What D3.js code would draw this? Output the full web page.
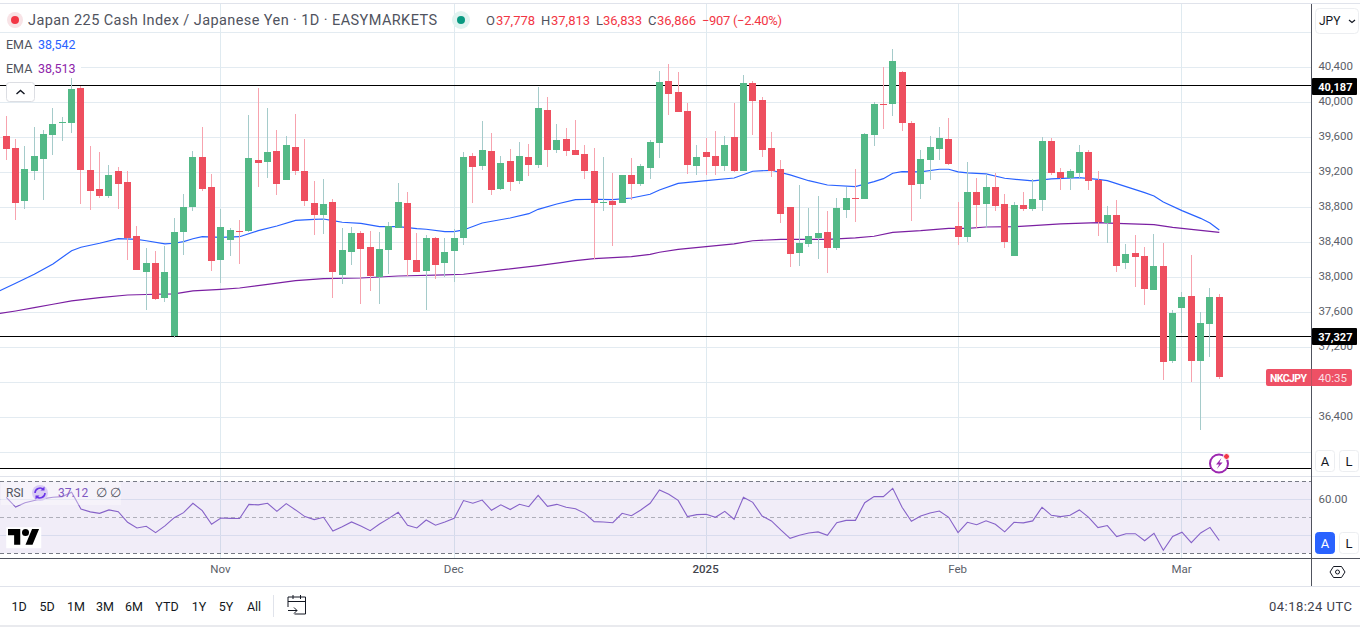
<!DOCTYPE html>
<html>
<head>
<meta charset="utf-8">
<title>NKCJPY</title>
<script src="https://d3js.org/d3.v7.min.js"></script>
<style>
  html, body { margin: 0; padding: 0; background: #fff; overflow: hidden; }
  svg { display: block; font-family: Roboto, "Noto Sans", sans-serif; }
  .axis path.domain { display: none; }
  .axis line { display: none; }
</style>
</head>
<body>
<div id="container"></div>
<script>
// daily candles
var opens = [39615,39479,38873,39216,39352,39627,39768,39764,40164,39227,
  39009,38929,39216,39089,38473,38061,38164,37764,37329,38518,
  38804,39375,39032,38198,38427,38529,38529,39341,39318,39444,
  39112,39490,39216,38850,38712,38861,38027,38289,38507,38347,
  38004,38312,38563,38850,38198,38072,38450,38164,38301,38450,
  39386,39272,39444,39009,39329,39101,39375,39284,39912,39455,
  39581,39455,39409,39216,38855,38873,38850,39170,39066,39250,
  39535,40244,40118,39901,39272,39432,39386,39272,39604,39216,
  40221,40027,39479,39238,38804,38278,38381,38450,38518,38335,
  38769,38906,38895,39627,39981,39981,40347,39764,39066,39341,
  39467,39581,38586,38461,38975,38838,39032,38838,38244,38827,
  38781,38884,39558,39204,39135,39193,39432,39112,38621,38712,
  38164,38278,38244,37855,38130,37044,37650,37787,37044,37467,
  37778];
var highs = [39844,39581,39501,39718,39684,39935,39832,40289,40186,39501,
  39432,39284,39261,39216,38586,38335,38301,38358,38678,38952,
  39444,39718,39181,38781,38563,38655,39855,40164,39935,39684,
  39615,39866,39581,39101,39124,38895,38563,38575,38529,38529,
  38518,38632,39078,38975,38507,38484,38461,38450,38552,39432,
  39421,39787,39650,39386,39467,39547,39524,40175,40061,39752,
  39707,39798,39513,39479,39375,39193,39170,39364,39295,39570,
  40358,40438,40347,39993,39513,39592,39672,39615,39993,40312,
  40244,40061,39661,39341,38804,39055,38792,38929,38758,38906,
  39032,39238,39650,40004,40404,40609,40358,39787,39455,39615,
  39718,39821,38861,39318,39135,39181,39193,38952,38861,38975,
  39124,39604,39592,39250,39238,39513,39455,39216,38815,38884,
  38381,38484,38347,38495,38392,37627,37832,38255,37604,37878,
  37813];
var lows = [39341,38655,38781,39112,38884,39398,39558,39650,38838,38769,
  38906,38906,38781,38198,38084,37627,37741,37718,37306,38255,
  38758,38987,38072,37935,38244,38153,38518,39032,39135,38941,
  39112,39170,38815,38484,38495,37764,37924,38141,37695,37844,
  37695,38038,38563,38015,38061,37627,37981,38004,37947,38370,
  38850,39227,38941,38998,38987,39066,39158,39250,39261,39421,
  39386,39398,39124,38210,38758,38358,38850,38884,39044,39124,
  39364,39855,39889,39181,39170,39170,39170,39216,39204,39216,
  39627,39375,39147,38621,38118,38130,38347,38210,38050,38312,
  38678,38632,38895,39501,39695,39844,39672,38644,38895,39112,
  39341,39284,38370,38404,38563,38563,38758,38335,38244,38758,
  38758,38758,39170,38998,38998,39135,38998,38473,38392,38061,
  38095,37890,37684,37855,36827,37021,37364,36804,36255,37090,
  36833];
var closes = [39467,38850,39238,39386,39638,39752,39775,40152,39227,38987,
  38929,39170,39066,38450,38084,38164,37752,38061,38518,38804,
  39375,39009,38187,38575,38541,38518,39364,39307,39432,39066,
  39513,39216,38873,38712,38838,38061,38312,38507,38324,38015,
  38324,38586,38861,38198,38061,38450,38141,38289,38450,39375,
  39261,39455,38998,39307,39089,39386,39284,39935,39455,39570,
  39444,39398,39216,38850,38861,38827,39170,39066,39272,39547,
  40232,40095,39889,39284,39375,39375,39272,39513,39216,40221,
  40015,39455,39216,38724,38267,38392,38473,38507,38335,38792,
  38906,38895,39638,39981,39970,40472,39764,39055,39352,39490,
  39592,39295,38461,38975,38827,39032,38815,38404,38827,38781,
  38895,39558,39193,39135,39216,39432,39101,38632,38712,38130,
  38267,38232,37867,38130,37032,37592,37775,37044,37478,37775,
  36866];

// EMA lines, read at the candles where they bend
var emaFastBars = [-1,1,3,5,7,8,10,12,14,15,17,18,19,20,21,23,25,27,29,31,33,34,35,36,38,40,42,44,45,47,48,49,
  51,54,56,57,59,61,63,65,67,69,70,72,75,78,80,82,84,86,88,91,93,94,95,96,98,100,101,102,103,105,107,110,112,
  115,117,118,120,122,123,124,126,128,129,130];
var emaFast = [37832,37932,38035,38153,38304,38343,38389,38441,38434,38418,38381,38389,38407,38441,38464,38457,38464,38533,38586,38651,38662,38666,38647,38629,38617,38579,38579,38556,38549,38522,38522,38541,
  38621,38678,38727,38777,38838,38887,38892,38887,38906,38949,38998,39074,39104,39135,39212,39223,39170,39104,39055,39036,39093,39127,39189,39208,39204,39235,39235,39204,39193,39181,39132,39101,39124,
  39139,39120,39104,39036,38967,38929,38861,38762,38674,38621,38541];
var emaSlowBars = [-1,1,3,5,7,10,13,16,18,20,23,25,28,31,34,38,42,47,49,53,57,61,63,67,69,70,72,75,78,80,83,88,91,93,95,98,101,103,105,108,110,113,117,119,123,125,128,130];
var emaSlow = [37581,37615,37653,37692,37730,37768,37798,37806,37810,37844,37863,37878,37920,37962,37985,37992,38015,38027,38035,38084,38133,38190,38213,38236,38263,38286,38320,38350,38381,38418,38434,38434,38450,38469,38514,38533,38560,38560,38575,38579,38590,38610,38625,38617,38602,38571,38537,38513];

var rsiValues = [61.1,55.7,58.1,59.3,60.4,61.1,61.5,63.9,54.6,53.0,
  52.2,54.1,53.1,47.2,44.1,45.0,41.5,45.2,49.8,52.6,
  57.8,53.7,46.1,49.6,49.4,49.3,57.2,56.9,57.8,53.3,
  57.6,54.1,50.4,48.7,50.0,42.4,44.8,47.4,45.2,42.6,
  46.3,49.4,52.8,45.6,44.1,48.5,45.6,47.4,49.4,59.3,
  57.8,59.6,53.9,56.9,54.3,57.2,55.9,62.2,56.1,57.2,
  55.6,54.8,52.2,47.6,47.4,47.0,52.2,50.9,54.1,57.8,
  65.2,62.8,59.4,50.4,51.5,51.7,50.0,53.3,48.9,61.1,
  58.3,50.7,48.0,43.0,38.3,40.0,41.3,41.9,40.0,47.0,
  48.3,48.3,58.1,61.5,61.5,66.1,55.6,47.8,50.7,52.4,
  53.5,50.0,41.5,47.2,45.9,48.1,46.1,41.9,47.2,46.9,
  48.0,55.6,51.1,50.4,51.1,54.1,50.0,44.3,45.4,39.3,
  40.9,40.9,37.0,41.1,31.7,39.3,41.7,35.9,41.3,44.4,
  37.12];

var priceTicks = [40400,40000,39600,39200,38800,38400,38000,37600,37200,36400];
var priceGrid = [40800,40400,40000,39600,39200,38800,38400,38000,37600,37200,36800,36400,36000];
var levelLines = [40187,37327,35815];
var levelTags = [40187,37327];
var monthBars = [23,48,75,102,126];
var monthLabels = ["Nov","Dec","2025","Feb","Mar"];
var rangeButtons = ["1D","5D","1M","3M","6M","YTD","1Y","5Y","All"];
var rangeCenters = [19,47,76,105,134,167,199,226,254];

var width = 1360, height = 627, plotRight = 1311.5;
var paneTop = 476, paneBottom = 558;

var svg = d3.select("#container").append("svg")
    .attr("width", width)
    .attr("height", height);

var x = d3.scaleLinear().domain([0, 130]).range([6.3, 1219.3]);
var y = d3.scaleLinear().domain([40400, 36400]).range([67.3, 417.3]);
var yRsi = d3.scaleLinear().domain([70, 30]).range([481.3, 553.3]);

function crisp(v) { return Math.floor(v) + 0.5; }

var defs = svg.append("defs");
defs.append("clipPath").attr("id", "mainClip").append("rect")
    .attr("x", 0).attr("y", 4).attr("width", plotRight).attr("height", paneTop - 4);
defs.append("clipPath").attr("id", "rsiClip").append("rect")
    .attr("x", 0).attr("y", paneTop).attr("width", plotRight).attr("height", paneBottom - paneTop);

// grid
svg.append("g").selectAll("line").data(priceGrid).enter().append("line")
    .attr("x1", 0).attr("x2", plotRight)
    .attr("y1", function(d) { return crisp(y(d)); })
    .attr("y2", function(d) { return crisp(y(d)); })
    .attr("stroke", "#e3ebf1");
svg.append("g").selectAll("line").data(monthBars).enter().append("line")
    .attr("x1", function(d) { return crisp(x(d)); })
    .attr("x2", function(d) { return crisp(x(d)); })
    .attr("y1", 4).attr("y2", paneBottom)
    .attr("stroke", "#dfeaf0");

// ema + level lines sit under the candles
var main = svg.append("g").attr("clip-path", "url(#mainClip)");
main.selectAll(".level").data(levelLines).enter().append("line")
    .attr("class", "level")
    .attr("x1", 0).attr("x2", plotRight)
    .attr("y1", function(d) { return crisp(y(d)); })
    .attr("y2", function(d) { return crisp(y(d)); })
    .attr("stroke", "#000")
    .attr("stroke-width", 1);

var emaLine = d3.line()
    .x(function(d) { return x(d[0]); })
    .y(function(d) { return y(d[1]); });
main.append("path")
    .attr("d", emaLine(d3.zip(emaFastBars, emaFast)))
    .attr("fill", "none").attr("stroke", "#2962ff").attr("stroke-width", 1.2);
main.append("path")
    .attr("d", emaLine(d3.zip(emaSlowBars, emaSlow)))
    .attr("fill", "none").attr("stroke", "#7b1fa2").attr("stroke-width", 1.2);

// candles
var candles = main.selectAll(".candle").data(d3.range(opens.length)).enter().append("g")
    .attr("class", "candle")
    .attr("shape-rendering", "crispEdges");
candles.append("rect")
    .attr("x", function(i) { return Math.round(x(i) - 3.5) + 3; })
    .attr("width", 1)
    .attr("y", function(i) { return Math.round(y(highs[i])); })
    .attr("height", function(i) { return Math.round(y(lows[i])) - Math.round(y(highs[i])); })
    .attr("fill", function(i) { return closes[i] >= opens[i] ? "#a5cbca" : "#f7a3ae"; });
candles.append("rect")
    .attr("x", function(i) { return Math.round(x(i) - 3.5); })
    .attr("width", 7)
    .attr("y", function(i) { return Math.round(y(Math.max(opens[i], closes[i]))); })
    .attr("height", function(i) {
      return Math.max(1, Math.round(y(Math.min(opens[i], closes[i]))) - Math.round(y(Math.max(opens[i], closes[i]))));
    })
    .attr("fill", function(i) { return closes[i] >= opens[i] ? "#53b987" : "#ee4f5f"; });

// rsi pane
svg.append("rect")
    .attr("x", 0).attr("width", plotRight)
    .attr("y", yRsi(70)).attr("height", yRsi(30) - yRsi(70))
    .attr("fill", "#7e57c2").attr("fill-opacity", 0.11);
svg.append("g").selectAll("line").data([60, 40]).enter().append("line")
    .attr("x1", 0).attr("x2", plotRight)
    .attr("y1", function(d) { return crisp(yRsi(d)); })
    .attr("y2", function(d) { return crisp(yRsi(d)); })
    .attr("stroke", "#d9dcee");
svg.append("g").selectAll("line").data([70, 50, 30]).enter().append("line")
    .attr("x1", 0).attr("x2", plotRight)
    .attr("y1", function(d) { return crisp(yRsi(d)); })
    .attr("y2", function(d) { return crisp(yRsi(d)); })
    .attr("stroke", "#787b86")
    .attr("stroke-opacity", function(d) { return d == 50 ? 0.55 : 1; })
    .attr("stroke-dasharray", "4,3");
svg.append("path")
    .attr("clip-path", "url(#rsiClip)")
    .attr("d", d3.line()
      .x(function(d, i) { return x(i); })
      .y(function(d) { return yRsi(d); })(rsiValues))
    .attr("fill", "none").attr("stroke", "#8662c8").attr("stroke-width", 1.1);

// frame lines
function rule(x1, y1, x2, y2, color) {
  svg.append("line").attr("x1", x1).attr("y1", y1).attr("x2", x2).attr("y2", y2).attr("stroke", color);
}
rule(0, 3.5, width, 3.5, "#e0e3eb");
rule(0, 476.5, width, 476.5, "#e0e3eb");
rule(0, 558.5, width, 558.5, "#50535e");
rule(0, 586.5, width, 586.5, "#e0e3eb");
rule(1311.5, 4, 1311.5, 586, "#50535e");
svg.append("rect").attr("x", 0).attr("y", 625).attr("width", width).attr("height", 2).attr("fill", "#e9eaee");

// axes
var priceAxis = svg.append("g")
    .attr("class", "axis")
    .attr("transform", "translate(1311.5,0)")
    .call(d3.axisRight(y).tickValues(priceTicks).tickFormat(d3.format(",")).tickSize(0));
priceAxis.selectAll("text")
    .attr("x", 41.5).attr("text-anchor", "end")
    .attr("font-size", 11.5).attr("fill", "#5c5f69").attr("font-family", "Roboto").attr("dy", "0.22em");

var rsiAxis = svg.append("g")
    .attr("class", "axis")
    .attr("transform", "translate(1311.5,0)")
    .call(d3.axisRight(yRsi).tickValues([60]).tickFormat(d3.format(".2f")).tickSize(0));
rsiAxis.selectAll("text")
    .attr("x", 36).attr("text-anchor", "end")
    .attr("font-size", 11.5).attr("fill", "#5c5f69").attr("font-family", "Roboto");

var timeAxis = svg.append("g")
    .attr("class", "axis")
    .attr("transform", "translate(-1,564)")
    .call(d3.axisBottom(x).tickValues(monthBars)
      .tickFormat(function(d, i) { return monthLabels[i]; })
      .tickSize(0).tickPadding(1));
timeAxis.selectAll("text")
    .attr("font-size", 11.5).attr("font-family", "Roboto")
    .attr("fill", function(d, i) { return monthLabels[i] == "2025" ? "#42444d" : "#5c5f69"; })
    .attr("font-weight", function(d, i) { return monthLabels[i] == "2025" ? 500 : 400; });

// price tags
var tags = svg.append("g").selectAll("g").data(levelTags).enter().append("g");
tags.append("rect")
    .attr("x", 1312).attr("width", 45).attr("height", 17)
    .attr("y", function(d) { return Math.round(y(d)) - 8; })
    .attr("rx", 1)
    .attr("fill", "#000");
tags.append("text")
    .attr("x", 1352.5).attr("text-anchor", "end")
    .attr("y", function(d) { return Math.round(y(d)) + 4.5; })
    .attr("font-size", 11).attr("font-weight", 700).attr("fill", "#fff")
    .text(d3.format(","));

svg.append("rect").attr("x", 1266).attr("y", 369).attr("width", 86).attr("height", 17).attr("rx", 2).attr("fill", "#ee5065");
svg.append("line").attr("x1", 1311.5).attr("x2", 1311.5).attr("y1", 369).attr("y2", 386).attr("stroke", "#c0505f");
svg.append("text").attr("x", 1270).attr("y", 381.500).attr("font-size", 10.5).attr("font-weight", 700).attr("fill", "#fff").attr("textLength", 37).text("NKCJPY");
svg.append("text").attr("x", 1347).attr("y", 381.500).attr("text-anchor", "end").attr("font-size", 11.5).attr("fill", "#fbdfe3").text("40:35");

// legend
function label(px, py, txt, size, color, anchor) {
  return svg.append("text").attr("x", px).attr("y", py).attr("font-size", size)
    .attr("fill", color).attr("text-anchor", anchor || "start").text(txt);
}
svg.append("circle").attr("cx", 15).attr("cy", 20).attr("r", 8).attr("fill", "#f8e3e6");
svg.append("circle").attr("cx", 15).attr("cy", 20).attr("r", 4).attr("fill", "#f23645");
label(28, 25, "Japan 225 Cash Index / Japanese Yen · 1D · EASYMARKETS", 14.5, "#50535e").attr("textLength", 409);
svg.append("circle").attr("cx", 461).attr("cy", 20).attr("r", 9).attr("fill", "#e0f3f0");
svg.append("circle").attr("cx", 461).attr("cy", 20).attr("r", 4).attr("fill", "#089981");

var ohlcLabels = ["O", "H", "L", "C"];
var ohlcValues = ["37,778", "37,813", "36,833", "36,866"];
var ohlcX = [486, 541, 596, 648];
var ohlcValueX = [496, 551, 603, 657];
ohlcLabels.forEach(function(d, i) {
  label(ohlcX[i], 25, d, 13, "#50535e");
  label(ohlcValueX[i], 25, ohlcValues[i], 13, "#f23645");
});
label(702, 25, "−907 (−2.40%)", 13, "#f23645").attr("textLength", 80);

svg.append("rect").attr("x", 0).attr("y", 60).attr("width", 81).attr("height", 18).attr("fill", "#fff");
label(6, 49, "EMA", 12.5, "#50535e");
label(38, 49, "38,542", 12.5, "#2962ff");
label(6, 73, "EMA", 12.5, "#50535e");
label(38, 73, "38,513", 12.5, "#8e24aa");

// collapse button
svg.append("rect").attr("x", 6.5).attr("y", 82.5).attr("width", 28).attr("height", 19).attr("rx", 3)
    .attr("fill", "#fff").attr("stroke", "#dcdee3");
svg.append("path").attr("d", "M16.5 94l4-3.5l4 3.5").attr("fill", "none").attr("stroke", "#131722").attr("stroke-width", 1.4);

// rsi legend
svg.append("rect").attr("x", 1).attr("y", 482).attr("width", 120).attr("height", 23).attr("fill", "#fff").attr("fill-opacity", 0.35);
label(6, 497, "RSI", 12, "#50535e");
svg.append("circle").attr("cx", 40).attr("cy", 493).attr("r", 8).attr("fill", "#d9cdf3");
svg.append("path").attr("d", "M35 493a5 5 0 0 1 8.6-3.4M45 493a5 5 0 0 1-8.6 3.4").attr("fill", "none").attr("stroke", "#6a35e8").attr("stroke-width", 1.6);
svg.append("path").attr("d", "M44.5 486.5v4h-4zM35.5 499.5v-4h4z").attr("fill", "#6a35e8");
label(58, 497, "37.12", 12, "#7e57c2");
label(96, 497, "∅", 13, "#50535e");
label(110, 497, "∅", 13, "#50535e");

// tv logo
var logo = svg.append("g").attr("transform", "translate(8,525.5) scale(0.875)");
logo.append("rect").attr("x", -2).attr("y", 2).attr("width", 40).attr("height", 24).attr("fill", "#fff");
logo.append("path").attr("d", "M14 22H7V11H0V4h14v18zM28 22h-8l7.5-18h8L28 22z").attr("fill", "#000");
logo.append("circle").attr("cx", 20).attr("cy", 8).attr("r", 4).attr("fill", "#000");

// lightning badge
svg.append("circle").attr("cx", 1219).attr("cy", 463.5).attr("r", 9).attr("fill", "#fff").attr("stroke", "#9c27b0").attr("stroke-width", 2);
svg.append("path").attr("d", "M1221.5 458l-5.5 6.5h3.2l-2.4 4.5l5.8-6.5h-3.2z").attr("fill", "#9c27b0");
svg.append("circle").attr("cx", 1226.5).attr("cy", 456.5).attr("r", 3).attr("fill", "#f23645").attr("stroke", "#fff");

// right hand buttons
function scaleBtn(px, py, txt, filled) {
  svg.append("rect").attr("x", px + 0.5).attr("y", py + 0.5).attr("width", 19).attr("height", 21).attr("rx", 3)
    .attr("fill", filled ? "#2962ff" : "#fff").attr("stroke", filled ? "#2962ff" : "#eceef1");
  label(px + 10, py + 16, txt, 13, filled ? "#fff" : "#131722", "middle");
}
scaleBtn(1315, 450, "A", false);
scaleBtn(1339, 450, "L", false);
scaleBtn(1315, 532, "A", true);
scaleBtn(1339, 532, "L", false);

svg.append("rect").attr("x", 1315.5).attr("y", 8.5).attr("width", 43).attr("height", 25).attr("rx", 4)
    .attr("fill", "#fff").attr("stroke", "#eceef1");
label(1319, 25, "JPY", 12, "#131722");
svg.append("path").attr("d", "M1349 20l3 2.5l3-2.5").attr("fill", "none").attr("stroke", "#131722").attr("stroke-width", 1.2);

// settings hexagon
svg.append("path").attr("d", "M1333.500 566.500h8l3.500 5.500l-3.500 5.500h-8l-3.500-5.500z").attr("fill", "none").attr("stroke", "#131722");
svg.append("circle").attr("cx", 1337.5).attr("cy", 572).attr("r", 2).attr("fill", "none").attr("stroke", "#131722");

// bottom toolbar
svg.append("g").selectAll("text").data(rangeButtons).enter().append("text")
    .attr("x", function(d, i) { return rangeCenters[i]; })
    .attr("y", 611)
    .attr("text-anchor", "middle")
    .attr("font-size", 12.5)
    .attr("fill", "#131722")
    .text(function(d) { return d; });
rule(273.5, 595, 273.5, 617, "#e0e3eb");
svg.append("path").attr("d", "M288 607v-10h17.500v17h-11M288 601.500h17.500M293 595v4M300.500 595v4M288 610.500h9M294 607.500l3 3l-3 3")
    .attr("fill", "none").attr("stroke", "#131722");
label(1269, 611, "04:18:24 UTC", 13, "#3e414b").attr("textLength", 83);
</script>
</body>
</html>
